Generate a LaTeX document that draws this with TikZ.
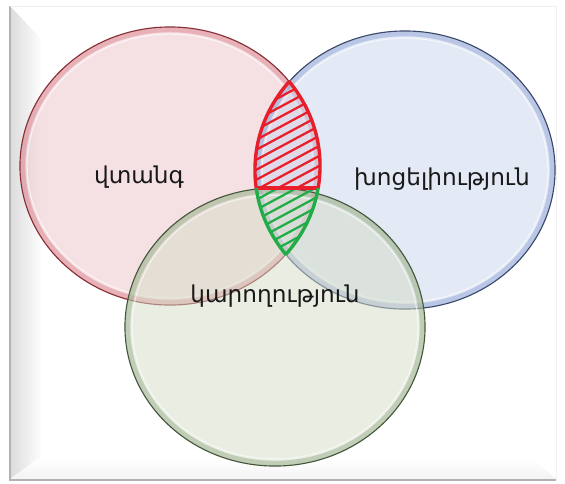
\documentclass[tikz,border=0pt]{standalone}
\usepackage{fontspec}
\newfontfamily\armfont{DejaVu Sans}
\definecolor{redfill}{RGB}{236,196,202}
\definecolor{bluefill}{RGB}{200,212,236}
\definecolor{greenfill}{RGB}{212,220,198}
\definecolor{redrim}{RGB}{135,45,52}
\definecolor{redglow}{RGB}{205,90,100}
\definecolor{bluerim}{RGB}{58,72,105}
\definecolor{blueglow}{RGB}{110,135,200}
\definecolor{greenrim}{RGB}{68,86,58}
\definecolor{greenglow}{RGB}{120,150,105}
\definecolor{hatchred}{RGB}{232,30,42}
\definecolor{hatchgreen}{RGB}{34,172,72}

\begin{document}
\begin{tikzpicture}[
        x=0.025cm, y=-0.025cm,
        venn/.style={line width=0.8pt, fill opacity=0.5},
        glow/.style={line width=3.5pt, draw opacity=0.35},
        shine/.style={line width=0.8pt, draw=white, draw opacity=0.6},
        lensline/.style={line width=2.4pt, line cap=round, line join=round},
        hatch/.style={line width=1.6pt},
        setlabel/.style={font=\armfont\fontsize{16.5}{19}\selectfont, text=black!90, inner sep=0pt}
        ]
  \useasboundingbox (0,0) rectangle (565,483);

  % frame
  \fill[white] (0,0) rectangle (565,483);
  \shade[left color=black!14, right color=white] (10,6) -- (42,40) -- (42,458) -- (10,479) -- cycle;
  \shade[top color=white, bottom color=black!5] (10,479) -- (36,460) -- (534,460) -- (556,479) -- cycle;
  \draw[black!30, line width=1pt] (10,6) -- (10,480) -- (556,480);
  \draw[black!6, line width=0.6pt] (10,6) -- (556,6) -- (556,480);

  % centres
  \coordinate (rc) at (170,166);
  \coordinate (bc) at (405,170);
  \coordinate (gc) at (275,327);

  % the three sets
  \fill[redfill, venn] (rc) ellipse [x radius=3.75cm, y radius=3.475cm];
  \draw[redglow, glow] (rc) ellipse [x radius=3.68cm, y radius=3.405cm];
  \draw[shine] (rc) ellipse [x radius=3.57cm, y radius=3.295cm];
  \draw[redrim, line width=0.8pt] (rc) ellipse [x radius=3.75cm, y radius=3.475cm];

  \fill[bluefill, venn] (bc) ellipse [x radius=3.75cm, y radius=3.475cm];
  \draw[blueglow, glow] (bc) ellipse [x radius=3.68cm, y radius=3.405cm];
  \draw[shine] (bc) ellipse [x radius=3.57cm, y radius=3.295cm];
  \draw[bluerim, line width=0.8pt] (bc) ellipse [x radius=3.75cm, y radius=3.475cm];

  \fill[greenfill, venn] (gc) ellipse [x radius=3.75cm, y radius=3.475cm];
  \draw[greenglow, glow] (gc) ellipse [x radius=3.68cm, y radius=3.405cm];
  \draw[shine] (gc) ellipse [x radius=3.57cm, y radius=3.295cm];
  \draw[greenrim, line width=0.8pt] (gc) ellipse [x radius=3.75cm, y radius=3.475cm];

  % hatched lens
  \begin{scope}
    \clip (rc) ellipse [x radius=3.75cm, y radius=3.475cm];
    \clip (bc) ellipse [x radius=3.75cm, y radius=3.475cm];
    \begin{scope}
      \clip (0,0) rectangle (565,188);
      \foreach \y in {100,110,...,340}
        \draw[hatchred, hatch] (200,\y) -- ++(160,-86);
    \end{scope}
    \begin{scope}
      \clip (0,188) rectangle (565,483);
      \foreach \y in {100,110,...,340}
        \draw[hatchgreen, hatch] (200,\y) -- ++(160,-86);
    \end{scope}
    \draw[hatchred, lensline] (0,188) -- (565,188);
  \end{scope}
  \begin{scope}
    \clip (0,0) rectangle (565,188);
    \clip (bc) ellipse [x radius=3.75cm, y radius=3.475cm];
    \draw[hatchred, lensline] (rc) ellipse [x radius=3.75cm, y radius=3.475cm];
  \end{scope}
  \begin{scope}
    \clip (0,0) rectangle (565,188);
    \clip (rc) ellipse [x radius=3.75cm, y radius=3.475cm];
    \draw[hatchred, lensline] (bc) ellipse [x radius=3.75cm, y radius=3.475cm];
  \end{scope}
  \begin{scope}
    \clip (0,188) rectangle (565,483);
    \clip (bc) ellipse [x radius=3.75cm, y radius=3.475cm];
    \draw[hatchgreen, lensline] (rc) ellipse [x radius=3.75cm, y radius=3.475cm];
  \end{scope}
  \begin{scope}
    \clip (0,188) rectangle (565,483);
    \clip (rc) ellipse [x radius=3.75cm, y radius=3.475cm];
    \draw[hatchgreen, lensline] (bc) ellipse [x radius=3.75cm, y radius=3.475cm];
  \end{scope}

  % labels
  \node[setlabel] (risk) at (139,177) {վտանգ};
  \node[setlabel] (vuln) at (442,179) {խոցելիություն};
  \node[setlabel] (capa) at (275,296) {կարողություն};
\end{tikzpicture}
\end{document}
